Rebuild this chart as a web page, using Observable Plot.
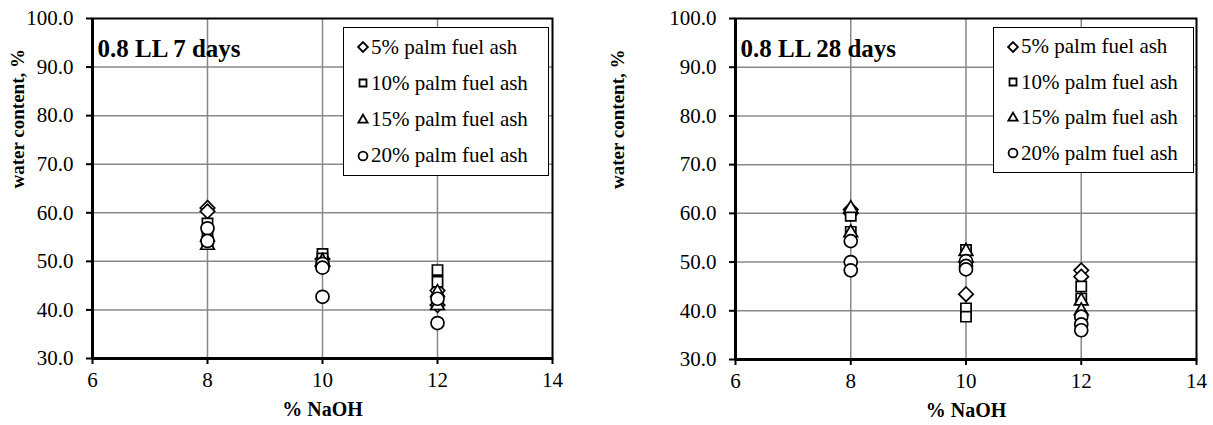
<!DOCTYPE html>
<html>
<head>
<meta charset="utf-8">
<script src="https://cdn.jsdelivr.net/npm/d3@7"></script>
<script src="https://cdn.jsdelivr.net/npm/@observablehq/plot@0.6"></script>
<style>
  html, body { margin: 0; padding: 0; background: #fff; }
  #wrap { position: relative; width: 1213px; height: 425px; font-family: "Liberation Serif", "Times New Roman", serif; }
  .panel { position: absolute; top: 0; }
  .legend { position: absolute; background: #fff; border: 1.5px solid #000; box-sizing: border-box; font-family: "Liberation Serif", "Times New Roman", serif; font-size: 21px; color: #000; }
  .legend .row { position: absolute; left: 0; display: flex; align-items: center; white-space: nowrap; }
  .legend svg { display: block; }
</style>
</head>
<body>
<div id="wrap"></div>
<script>
// ---------- data ----------
const seriesNames = ["5% palm fuel ash", "10% palm fuel ash", "15% palm fuel ash", "20% palm fuel ash"];
const seriesSymbols = ["diamond2", "square2", "triangle2", "circle"];
const xTicks = [6, 8, 10, 12, 14];
const yTicks = [30, 40, 50, 60, 70, 80, 90, 100];
const xDomain = [6, 14];
const yDomain = [30, 100];
const panelTitles = ["0.8 LL 7 days", "0.8 LL 28 days"];
const xLabel = "% NaOH";
const yLabel = "water content, %";

// 7 days: [NaOH %, water content %]
const d7_pfa5  = [[8, 61.0], [8, 60.3], [10, 50.5], [10, 49.0], [12, 44.0], [12, 41.0]];
const d7_pfa10 = [[8, 57.8], [8, 55.5], [8, 54.0], [10, 51.5], [10, 50.6], [12, 48.2], [12, 45.8]];
const d7_pfa15 = [[8, 53.3], [8, 55.0], [10, 50.0], [12, 43.6], [12, 40.9]];
const d7_pfa20 = [[8, 56.8], [8, 54.2], [10, 49.5], [10, 48.7], [10, 42.7], [12, 42.3], [12, 37.3]];

// 28 days
const d28_pfa5  = [[8, 60.8], [8, 60.0], [10, 50.0], [10, 43.4], [12, 48.3], [12, 47.0]];
const d28_pfa10 = [[8, 59.5], [8, 56.2], [10, 52.5], [10, 40.5], [10, 38.8], [12, 45.0], [12, 42.5]];
const d28_pfa15 = [[8, 61.0], [8, 56.0], [10, 52.2], [12, 42.0], [12, 40.0]];
const d28_pfa20 = [[8, 54.3], [8, 50.0], [8, 48.3], [10, 50.2], [10, 49.2], [10, 48.5], [12, 38.8], [12, 37.2], [12, 36.0]];

const panels = [
  {title: panelTitles[0], series: [d7_pfa5, d7_pfa10, d7_pfa15, d7_pfa20],
   left: 0, width: 600, margins: {l: 92, r: 48, t: 18, b: 67},
   legend: {left: 343, top: 27, width: 206, height: 149}},
  {title: panelTitles[1], series: [d28_pfa5, d28_pfa10, d28_pfa15, d28_pfa20],
   left: 600, width: 613, margins: {l: 135, r: 17, t: 18, b: 66},
   legend: {left: 993, top: 27, width: 201, height: 146}}
];

const wrap = document.getElementById("wrap");
const serif = "'Liberation Serif', 'Times New Roman', serif";
const symScale = Plot.scale({symbol: {domain: seriesNames, range: seriesSymbols}});

panels.forEach(p => {
  const rows = [];
  p.series.forEach((arr, i) => arr.forEach(([x, y]) => rows.push({x, y, s: seriesNames[i]})));
  const chart = Plot.plot({
    width: p.width,
    height: 425,
    marginLeft: p.margins.l,
    marginRight: p.margins.r,
    marginTop: p.margins.t,
    marginBottom: p.margins.b,
    style: {fontFamily: serif, fontSize: "21px", color: "#000", background: "#fff"},
    x: {domain: xDomain, ticks: xTicks},
    y: {domain: yDomain, ticks: yTicks},
    symbol: {domain: seriesNames, range: seriesSymbols},
    marks: [
      Plot.gridX(xTicks.slice(1, -1), {stroke: "#888", strokeOpacity: 1, strokeWidth: 1.5}),
      Plot.gridY(yTicks.slice(1, -1), {stroke: "#888", strokeOpacity: 1, strokeWidth: 1.5}),
      Plot.frame({stroke: "#000", strokeWidth: 2}),
      Plot.ruleX([xDomain[0]], {stroke: "#000", strokeWidth: 3}),
      Plot.ruleY([yDomain[0]], {stroke: "#000", strokeWidth: 3}),
      Plot.axisY({ticks: yTicks, tickSize: 6, tickPadding: 13, tickFormat: d3.format(".1f"), label: null, strokeWidth: 2, fontSize: 21}),
      Plot.axisX({ticks: xTicks, tickSize: 6, tickPadding: 8, tickFormat: d3.format("d"), label: null, strokeWidth: 2, fontSize: 21}),
      Plot.dot(rows, {x: "x", y: "y", symbol: "s", r: 6.5, stroke: "#000", strokeWidth: 1.7, fill: "#fff", fillOpacity: 1}),
      Plot.text([p.title], {frameAnchor: "top-left", text: d => d, dx: 5, dy: 21, lineAnchor: "top", textAnchor: "start",
        fontWeight: "bold", fontSize: 25, fill: "#000"}),
      Plot.text([yLabel], {frameAnchor: "left", text: d => d, rotate: -90, dx: -p.margins.l + 17, fontWeight: "bold", fontSize: 19, fill: "#000"}),
      Plot.text([xLabel], {frameAnchor: "bottom", text: d => d, dy: 57, fontWeight: "bold", fontSize: 20, fill: "#000"})
    ]
  });
  chart.classList.add("panel");
  chart.style.left = p.left + "px";
  wrap.appendChild(chart);

  // legend
  const lg = document.createElement("div");
  lg.className = "legend";
  Object.assign(lg.style, {left: p.legend.left + "px", top: p.legend.top + "px", width: p.legend.width + "px", height: p.legend.height + "px"});
  const step = (p.legend.height - 4) / 4;
  seriesNames.forEach((name, i) => {
    const row = document.createElement("div");
    row.className = "row";
    row.style.top = (1 + step * i) + "px";
    row.style.height = step + "px";
    row.style.left = "12px";
    const sv = d3.create("svg").attr("width", 14).attr("height", 14).style("margin-right", "1px");
    sv.append("path")
      .attr("transform", "translate(7,7)")
      .attr("d", d3.symbol(symScale.apply(name), 62)())
      .attr("fill", "#fff").attr("stroke", "#000").attr("stroke-width", 1.8);
    row.appendChild(sv.node());
    const t = document.createElement("span");
    t.textContent = name;
    row.appendChild(t);
    lg.appendChild(row);
  });
  wrap.appendChild(lg);
});
</script>
</body>
</html>
